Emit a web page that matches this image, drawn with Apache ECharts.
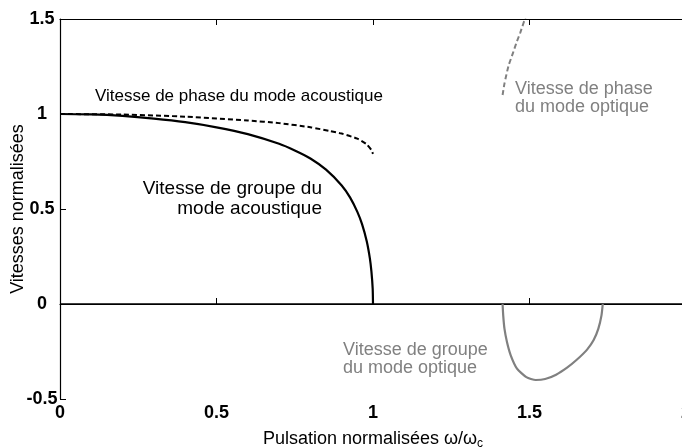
<!DOCTYPE html>
<html>
<head>
<meta charset="utf-8">
<script src="https://cdn.jsdelivr.net/npm/echarts@6/dist/echarts.min.js"></script>
<style>
    html, body { margin: 0; padding: 0; background: #fff; }
    #chart { width: 682px; height: 447px; }
</style>
</head>
<body>
<div id="chart"></div>
<script>
'use strict';
// valeurs (omega / omega_c, vitesse normalisee)
var groupeAcoustique = [
    [0, 1], [0.1, 0.998], [0.2, 0.99], [0.3, 0.976], [0.4, 0.957],
    [0.5, 0.93], [0.6, 0.894], [0.7, 0.843], [0.75, 0.808], [0.8, 0.766],
    [0.85, 0.707], [0.9, 0.624], [0.927, 0.56], [0.95, 0.485],
    [0.965, 0.42], [0.98, 0.33], [0.99, 0.24], [0.995, 0.17],
    [0.999, 0.08], [1, 0]
];
var phaseAcoustique = [
    [0, 1], [0.2, 0.997], [0.4, 0.986], [0.6, 0.966], [0.7, 0.952],
    [0.8, 0.93], [0.863, 0.91], [0.9, 0.897], [0.95, 0.87],
    [0.98, 0.84], [0.995, 0.81], [1, 0.79]
];
var phaseOptique = [
    [1.414, 1.1], [1.42, 1.16], [1.433, 1.254], [1.447, 1.32],
    [1.458, 1.374], [1.47, 1.426], [1.489, 1.519], [1.5, 1.58]
];
var groupeOptique = [
    [1.414, 0], [1.416, -0.06], [1.42, -0.13], [1.428, -0.2], [1.44, -0.27],
    [1.46, -0.34], [1.49, -0.385], [1.52, -0.4], [1.55, -0.395],
    [1.585, -0.372], [1.62, -0.335], [1.65, -0.295], [1.684, -0.24],
    [1.705, -0.19], [1.72, -0.13], [1.73, -0.06], [1.734, 0]
];
var ligneZero = [[0, 0], [2, 0]];
var xTicks = [0, 0.5, 1, 1.5, 2];
var yTicks = [-0.5, 0, 0.5, 1, 1.5];

var chart = echarts.init(document.getElementById('chart'));
var police = 'Liberation Sans, Arial, sans-serif';

function tickFmt(list) {
    return function(v) {
        for (var i = 0; i < list.length; i++) {
            if (Math.abs(list[i] - v) < 1e-9) return String(list[i]);
        }
        return '';
    };
}

var option = {
    animation: false,
    backgroundColor: '#fff',
    grid: { left: 60, right: -4, top: 19, bottom: 48, outerBoundsMode: 'none', containLabel: false },
    xAxis: [{
        type: 'value', min: 0, max: 2, interval: 0.5, position: 'bottom',
        axisLine: { lineStyle: { color: '#000', width: 1.2 } },
        axisTick: { inside: true, length: 6, lineStyle: { color: '#000' } },
        splitLine: { show: false },
        axisLabel: {
            formatter: tickFmt(xTicks), color: '#000', fontFamily: police,
            fontSize: 18, fontWeight: 'bold', margin: 5
        },
        name: '{a|Pulsation normalisées ω/ω}{s|c}',
        nameLocation: 'middle', nameGap: 30, nameMoveOverlap: false,
        nameTextStyle: {
            rich: {
                a: { fontFamily: police, fontSize: 18, color: '#000' },
                s: { fontFamily: police, fontSize: 12, color: '#000', verticalAlign: 'bottom', padding: [9, 0, 0, 0] }
            }
        }
    }, {
        type: 'value', min: 0, max: 2, interval: 0.5, position: 'top',
        axisLine: { lineStyle: { color: '#000', width: 1.2 } },
        axisTick: { inside: true, length: 6, lineStyle: { color: '#000' } },
        axisLabel: { show: false },
        splitLine: { show: false }
    }],
    yAxis: {
        type: 'value', min: -0.5, max: 1.5, interval: 0.5,
        axisLine: { show: true, lineStyle: { color: '#000', width: 1.2 } },
        axisTick: { show: true, inside: true, length: 6, lineStyle: { color: '#000' } },
        splitLine: { show: false },
        axisLabel: {
            formatter: tickFmt(yTicks), color: '#000', fontFamily: police,
            fontSize: 18, fontWeight: 'bold', margin: 18, align: 'center'
        },
        name: 'Vitesses normalisées',
        nameLocation: 'middle', nameGap: 33, nameMoveOverlap: false,
        nameTextStyle: { fontFamily: police, fontSize: 18, color: '#000' }
    },
    series: [{
        type: 'line', data: ligneZero, symbol: 'none', silent: true,
        lineStyle: { color: '#000', width: 1.5 }
    }, {
        type: 'line', data: groupeAcoustique, symbol: 'none', smooth: 0.2,
        lineStyle: { color: '#000', width: 2.2 }
    }, {
        type: 'line', data: phaseAcoustique, symbol: 'none', smooth: 0.2,
        lineStyle: { color: '#000', width: 2, type: [5, 3] }
    }, {
        type: 'line', data: phaseOptique, symbol: 'none', smooth: 0.2,
        lineStyle: { color: '#808080', width: 2, type: [5, 3] }
    }, {
        type: 'line', data: groupeOptique, symbol: 'none', smooth: 0.2,
        lineStyle: { color: '#808080', width: 2.2 }
    }],
    graphic: [{
        type: 'text', left: 95, top: 88,
        style: { text: 'Vitesse de phase du mode acoustique', font: '17px ' + police, fill: '#000' }
    }, {
        type: 'text', right: 360, top: 179,
        style: { text: 'Vitesse de groupe du', font: '19px ' + police, fill: '#000' }
    }, {
        type: 'text', right: 360, top: 199,
        style: { text: 'mode acoustique', font: '19px ' + police, fill: '#000' }
    }, {
        type: 'text', left: 515, top: 80,
        style: { text: 'Vitesse de phase\ndu mode optique', font: '18px ' + police, fill: '#808080', lineHeight: 18 }
    }, {
        type: 'text', left: 343, top: 341,
        style: { text: 'Vitesse de groupe\ndu mode optique', font: '18px ' + police, fill: '#808080', lineHeight: 18 }
    }]
};

chart.setOption(option);
</script>
</body>
</html>
